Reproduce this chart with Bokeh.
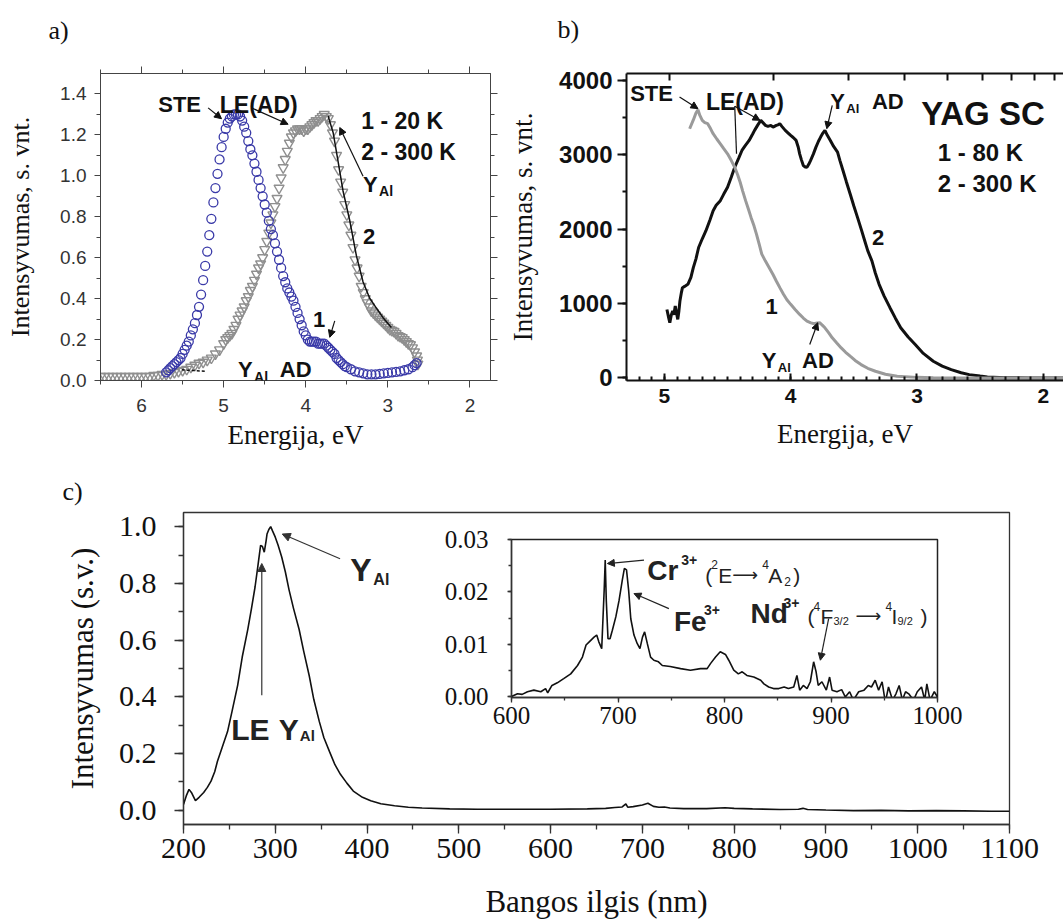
from bokeh.plotting import figure
from bokeh.models import (Range1d, LinearAxis, SingleIntervalTicker, FixedTicker,
                          PrintfTickFormatter, Label, Arrow, NormalHead, GridBox)
from bokeh.layouts import row, column
from bokeh.embed import file_html
from bokeh.resources import INLINE

SANS = "Liberation Sans"
SERIF = "Liberation Serif"

# ---------------- panel a data (energy eV, intensity) ----------------
a_e1 = [5.70, 5.675, 5.65, 5.625, 5.60, 5.575, 5.55, 5.525, 5.50, 5.475, 5.45, 5.425, 5.40, 5.375,
        5.35, 5.325, 5.30, 5.275, 5.25, 5.225, 5.20, 5.175, 5.15, 5.125, 5.10, 5.075, 5.05, 5.025,
        5.00, 4.975, 4.95, 4.925, 4.90, 4.875, 4.85, 4.825, 4.80, 4.775, 4.75, 4.725, 4.70, 4.675,
        4.65, 4.625, 4.60, 4.575, 4.55, 4.525, 4.50, 4.475, 4.45, 4.425, 4.40, 4.375, 4.35, 4.325,
        4.30, 4.275, 4.25, 4.225, 4.20, 4.175, 4.15, 4.125, 4.10, 4.075, 4.05, 4.025, 4.00, 3.975,
        3.95, 3.925, 3.90, 3.875, 3.85, 3.825, 3.80, 3.775, 3.75, 3.725, 3.70, 3.675, 3.65, 3.625,
        3.60, 3.575, 3.55, 3.525, 3.50, 3.45, 3.40, 3.35, 3.30, 3.25, 3.20, 3.15, 3.10, 3.05, 3.00,
        2.95, 2.90, 2.85, 2.80, 2.75, 2.70, 2.675, 2.65]
a_i1 = [0.04, 0.05, 0.06, 0.07, 0.08, 0.09, 0.10, 0.11, 0.13, 0.15, 0.17, 0.19, 0.22, 0.25,
        0.28, 0.32, 0.36, 0.42, 0.49, 0.56, 0.63, 0.71, 0.79, 0.87, 0.94, 1.01, 1.08, 1.14,
        1.19, 1.23, 1.26, 1.28, 1.29, 1.30, 1.30, 1.30, 1.29, 1.27, 1.24, 1.21, 1.17, 1.13,
        1.10, 1.06, 1.02, 0.98, 0.94, 0.90, 0.86, 0.82, 0.78, 0.74, 0.71, 0.67, 0.63, 0.59,
        0.55, 0.51, 0.48, 0.45, 0.43, 0.41, 0.39, 0.36, 0.33, 0.30, 0.27, 0.24, 0.22, 0.20,
        0.19, 0.19, 0.19, 0.19, 0.18, 0.18, 0.18, 0.18, 0.17, 0.16, 0.15, 0.14, 0.13, 0.11,
        0.10, 0.09, 0.08, 0.07, 0.065, 0.055, 0.045, 0.04, 0.035, 0.03, 0.03, 0.03, 0.032, 0.035, 0.037,
        0.04, 0.042, 0.045, 0.05, 0.055, 0.065, 0.075, 0.085]

a_e2 = [6.50, 6.45, 6.40, 6.35, 6.30, 6.25, 6.20, 6.15, 6.10, 6.05, 6.00, 5.95, 5.90, 5.85,
        5.80, 5.75, 5.70, 5.65, 5.60, 5.55, 5.50, 5.45, 5.40, 5.35, 5.30, 5.25, 5.20, 5.15,
        5.10, 5.05, 5.00, 4.975, 4.95, 4.925, 4.90, 4.875, 4.85, 4.825, 4.80, 4.775, 4.75, 4.725,
        4.70, 4.675, 4.65, 4.625, 4.60, 4.575, 4.55, 4.525, 4.50, 4.475, 4.45, 4.425, 4.40, 4.375,
        4.35, 4.325, 4.30, 4.275, 4.25, 4.225, 4.20, 4.175, 4.15, 4.125, 4.10, 4.075, 4.05, 4.025,
        4.00, 3.975, 3.95, 3.925, 3.90, 3.875, 3.85, 3.825, 3.80, 3.775, 3.75, 3.725, 3.70, 3.675,
        3.65, 3.625, 3.60, 3.575, 3.55, 3.525, 3.50, 3.475, 3.45, 3.425, 3.40, 3.375, 3.35, 3.325,
        3.30, 3.275, 3.25, 3.225, 3.20, 3.175, 3.15, 3.125, 3.10, 3.075, 3.05, 3.025, 3.00, 2.975,
        2.95, 2.925, 2.90, 2.875, 2.85, 2.825, 2.80, 2.775, 2.75, 2.725, 2.70, 2.675, 2.65, 2.64, 2.635]
a_i2 = [0.02, 0.02, 0.02, 0.02, 0.02, 0.02, 0.02, 0.02, 0.02, 0.02, 0.02, 0.02, 0.02, 0.025,
        0.025, 0.03, 0.03, 0.035, 0.04, 0.045, 0.05, 0.055, 0.065, 0.075, 0.085, 0.09, 0.10, 0.11,
        0.13, 0.15, 0.18, 0.20, 0.21, 0.22, 0.23, 0.25, 0.27, 0.30, 0.32, 0.34, 0.36, 0.39,
        0.41, 0.44, 0.46, 0.49, 0.52, 0.55, 0.57, 0.60, 0.64, 0.68, 0.72, 0.77, 0.81, 0.85,
        0.89, 0.94, 0.99, 1.04, 1.08, 1.12, 1.16, 1.19, 1.21, 1.22, 1.23, 1.23, 1.23, 1.22,
        1.23, 1.23, 1.24, 1.25, 1.26, 1.27, 1.27, 1.28, 1.29, 1.30, 1.29, 1.28, 1.25, 1.21,
        1.17, 1.10, 1.03, 0.97, 0.92, 0.86, 0.81, 0.76, 0.71, 0.65, 0.59, 0.55, 0.51, 0.46,
        0.43, 0.40, 0.38, 0.36, 0.34, 0.33, 0.32, 0.31, 0.30, 0.29, 0.28, 0.27, 0.26, 0.25,
        0.245, 0.24, 0.23, 0.22, 0.215, 0.21, 0.20, 0.19, 0.18, 0.175, 0.16, 0.14, 0.12, 0.10, 0.08]

a_fit_e = [3.728, 3.667, 3.606, 3.546, 3.465, 3.383, 3.302, 3.221, 3.14, 3.059, 2.957]
a_fit_i = [1.292, 1.212, 1.069, 0.926, 0.783, 0.609, 0.481, 0.402, 0.354, 0.307, 0.259]
a_fit2_e = [5.51, 5.21]
a_fit2_i = [0.052, 0.045]

# ---------------- panel b data ----------------
b_e1 = [4.80, 4.77, 4.75, 4.734, 4.72, 4.70, 4.68, 4.657, 4.635, 4.614, 4.585, 4.557, 4.53, 4.50,
        4.47, 4.443, 4.42, 4.40, 4.38, 4.357, 4.335, 4.314, 4.29, 4.271, 4.25, 4.229, 4.20, 4.171,
        4.14, 4.114, 4.085, 4.057, 4.03, 4.00, 3.965, 3.929, 3.90, 3.871, 3.84, 3.814, 3.79, 3.771,
        3.75, 3.729, 3.70, 3.671, 3.635, 3.60, 3.565, 3.529, 3.49, 3.443, 3.39, 3.329, 3.25, 3.157,
        3.00, 2.871, 2.50, 1.80]
b_i1 = [3348, 3470, 3560, 3604, 3530, 3461, 3430, 3416, 3350, 3281, 3210, 3146, 3080, 3011,
        2920, 2831, 2730, 2629, 2510, 2382, 2270, 2157, 2040, 1933, 1800, 1663, 1570, 1483,
        1390, 1303, 1210, 1124, 1050, 989, 920, 854, 805, 764, 740, 728, 740, 742,
        710, 674, 610, 539, 470, 404, 345, 292, 235, 180, 130, 90, 50, 22,
        8, 2, 0, 0]

b_e2 = [4.98, 4.965, 4.957, 4.945, 4.934, 4.925, 4.914, 4.905, 4.894, 4.885, 4.877, 4.865, 4.857,
        4.84, 4.814, 4.79, 4.771, 4.75, 4.729, 4.70, 4.671, 4.64, 4.614, 4.59, 4.557, 4.53, 4.50,
        4.47, 4.443, 4.41, 4.386, 4.36, 4.329, 4.30, 4.286, 4.26, 4.237, 4.22, 4.20, 4.18, 4.157,
        4.14, 4.114, 4.10, 4.086, 4.07, 4.043, 4.02, 4.00, 3.98, 3.957, 3.94, 3.929, 3.915, 3.90,
        3.885, 3.871, 3.857, 3.843, 3.82, 3.80, 3.78, 3.763, 3.745, 3.729, 3.71, 3.686, 3.66,
        3.629, 3.61, 3.586, 3.56, 3.529, 3.50, 3.471, 3.44, 3.414, 3.39, 3.357, 3.33, 3.30, 3.26,
        3.214, 3.17, 3.129, 3.07, 3.014, 2.95, 2.871, 2.80, 2.729, 2.65, 2.586, 2.50, 2.443, 2.30,
        2.10, 1.80]
b_i2 = [920, 800, 742, 850, 899, 850, 966, 880, 787, 900, 1034, 1150, 1213,
        1230, 1258, 1350, 1483, 1600, 1753, 1870, 1978, 2120, 2247, 2320, 2382, 2470, 2562,
        2700, 2831, 2960, 3056, 3120, 3191, 3280, 3326, 3400, 3461, 3430, 3393, 3380, 3393,
        3370, 3393, 3400, 3416, 3380, 3326, 3290, 3258, 3230, 3191, 3100, 3011, 2930, 2854,
        2835, 2831, 2870, 2921, 3010, 3101, 3180, 3236, 3290, 3326, 3260, 3191, 3110,
        3034, 2920, 2787, 2640, 2472, 2310, 2157, 1990, 1843, 1710, 1573, 1410, 1258, 1100,
        944, 800, 674, 550, 449, 330, 225, 160, 112, 70, 45, 25, 13, 4,
        0, 0]

# top axis of panel b: wavelength ticks (nm)
b_top_nm = [250, 300, 350, 400, 450, 500, 550, 600, 650, 700]

# ---------------- panel c data (wavelength nm, intensity) ----------------
c_nm = [200, 203, 206, 209, 213, 217, 222, 226, 230, 234, 237, 242, 248, 253, 259, 264, 270, 274,
        278, 281, 284, 286, 288, 290, 291, 293, 295, 297, 300, 303, 307, 311, 315, 320, 326, 331,
        337, 342, 348, 353, 359, 365, 371, 378, 385, 395, 404, 415, 430, 445, 460, 490, 520, 560,
        600, 640, 660, 670, 678, 682, 684, 690, 700, 706, 712, 718, 724, 730, 745, 770, 790, 800,
        820, 850, 870, 875, 880, 900, 930, 960, 990, 1020, 1050, 1080, 1100]
c_int = [0.02, 0.05, 0.073, 0.06, 0.033, 0.045, 0.062, 0.08, 0.102, 0.135, 0.172, 0.22, 0.277,
         0.35, 0.44, 0.54, 0.637, 0.71, 0.788, 0.86, 0.934, 0.93, 0.91, 0.95, 0.974, 0.99, 1.0,
         0.985, 0.963, 0.935, 0.893, 0.84, 0.777, 0.71, 0.637, 0.56, 0.474, 0.39, 0.312, 0.255,
         0.207, 0.16, 0.126, 0.095, 0.067, 0.045, 0.033, 0.022, 0.015, 0.01, 0.007, 0.004, 0.003,
         0.003, 0.003, 0.004, 0.006, 0.009, 0.011, 0.022, 0.01, 0.012, 0.018, 0.024, 0.013, 0.01,
         0.011, 0.007, 0.005, 0.005, 0.008, 0.006, 0.004, 0.002, 0.003, 0.006, 0.002, 0.0,
         -0.002, -0.001, -0.003, -0.002, -0.003, -0.004, -0.004]

# inset
ins_nm = [600, 605.6, 610, 615, 621, 627.5, 632, 634, 638, 643, 649, 655.6, 662, 666.6, 670, 673,
          677.5, 680, 682, 684.7, 687, 688, 689, 690.6, 692.5, 694.7, 698, 701, 704, 706, 708, 710,
          712, 715, 718, 720.6, 723, 725, 727.5, 730.6, 733.7, 738, 741.6, 749, 758.8, 768, 777.5,
          783.7, 787, 791.6, 796, 800.9, 804, 808.7, 813, 816.6, 821, 827.5, 834, 837, 841.5, 846,
          851, 856, 860, 865, 868, 870.6, 874, 877.5, 880.6, 883.7, 886, 888, 891.5, 895.6, 898.7,
          901, 905.6, 910, 913.4, 917.5, 921, 926, 931, 935, 938, 941.5, 944.7, 948, 951, 954,
          957.8, 961, 964, 967, 970, 973, 977.5, 981, 985, 988, 990, 993, 997, 1000]
ins_int = [0.0001, 0.0006, 0.0005, 0.001, 0.0013, 0.001, 0.0016, 0.0008, 0.0022, 0.0027, 0.0035,
           0.0044, 0.006, 0.0076, 0.0099, 0.0105, 0.0114, 0.0118, 0.0105, 0.0092, 0.0203, 0.0261,
           0.0184, 0.0111, 0.0111, 0.0127, 0.0153, 0.0184, 0.0222, 0.0245, 0.0242, 0.0203, 0.0149,
           0.0118, 0.0102, 0.0092, 0.0114, 0.0124, 0.0102, 0.0076, 0.007, 0.0067, 0.006, 0.0058,
           0.0054, 0.0051, 0.0054, 0.0054, 0.0064, 0.0076, 0.0086, 0.0081, 0.007, 0.0051, 0.0044,
           0.0048, 0.0041, 0.0038, 0.0032, 0.0025, 0.0019, 0.0016, 0.0016, 0.0019, 0.0016, 0.0019,
           0.0041, 0.0013, 0.0022, 0.0016, 0.0029, 0.0067, 0.0048, 0.0022, 0.0029, 0.0013, 0.0038,
           0.0013, 0.001, 0.0014, 0.0, 0.001, -0.0006, 0.001, 0.0013, 0.0022, 0.0019, 0.0032,
           0.0013, 0.0029, -0.001, 0.0019, -0.0006, 0.0006, 0.0022, -0.0006, 0.001, 0.0006,
           -0.0006, 0.001, 0.0019, -0.0006, 0.0025, -0.0006, 0.001, 0.0]

panel_letters = ["a)", "b)", "c)"]


def style(ax, font, size, bold=False, color="#222", mt_out=6, mt_in=0, mn_out=3, mn_in=0,
          standoff=6, lw=1.0, lc="#333", tfont=SERIF, tsize=27, tstand=10):
    ax.major_label_text_font = font
    ax.major_label_text_font_size = f"{size}px"
    ax.major_label_text_font_style = "bold" if bold else "normal"
    ax.major_label_text_color = color
    ax.major_tick_out = mt_out
    ax.major_tick_in = mt_in
    ax.minor_tick_out = mn_out
    ax.minor_tick_in = mn_in
    ax.major_label_standoff = standoff
    ax.axis_line_width = lw
    ax.axis_line_color = lc
    ax.major_tick_line_color = lc
    ax.minor_tick_line_color = lc
    ax.major_tick_line_width = lw
    ax.minor_tick_line_width = lw
    ax.axis_label_text_font = tfont
    ax.axis_label_text_font_size = f"{tsize}px"
    ax.axis_label_text_font_style = "normal"
    ax.axis_label_text_color = "#111"
    ax.axis_label_standoff = tstand


def mirror(ticker, mt_out=7, mt_in=0, mn_out=4, mn_in=0, lw=1.0, lc="#444"):
    ax = LinearAxis(ticker=ticker)
    style(ax, SANS, 12, mt_out=mt_out, mt_in=mt_in, mn_out=mn_out, mn_in=mn_in, standoff=0,
          lw=lw, lc=lc, tstand=0)
    ax.major_label_text_color = None
    ax.major_label_text_font_size = "0px"
    return ax


def txt(p, x, y, s, size, bold=True, font=SANS, dx=0, dy=0, color="#111"):
    p.add_layout(Label(x=x, y=y, text=s, x_offset=dx, y_offset=dy, text_font=font,
                       text_font_size=f"{size}px", text_font_style="bold" if bold else "normal",
                       text_align="left", text_baseline="alphabetic", text_color=color))


def arr(p, x0, y0, x1, y1, head=True, size=7, lw=1.2, color="#111"):
    end = NormalHead(size=size, fill_color=color, line_color=color, line_width=1) if head else None
    p.add_layout(Arrow(end=end, x_start=x0, y_start=y0, x_end=x1, y_end=y1,
                       line_color=color, line_width=lw))


def letter_fig(w, h, text, lx, ly):
    f = figure(width=w, height=h, x_range=Range1d(0, w), y_range=Range1d(h, 0),
               x_axis_type=None, y_axis_type=None, output_backend="svg", toolbar_location=None,
               title=None, min_border_left=0, min_border_right=0, min_border_top=0,
               min_border_bottom=0)
    f.grid.visible = False
    f.outline_line_color = None
    f.background_fill_alpha = 0
    f.border_fill_alpha = 0
    txt(f, lx, ly, text, 26, bold=False, font=SERIF)
    return f


# ================= panel a =================
pa = figure(width=505, height=460, x_range=Range1d(6.5, 1.75), y_range=Range1d(0, 1.5),
            output_backend="svg", toolbar_location=None, title=None,
            min_border_left=100, min_border_right=15, min_border_top=65, min_border_bottom=79,
            x_axis_label="Energija, eV", y_axis_label="Intensyvumas, s. vnt.")
pa.grid.visible = False
pa.outline_line_color = "#444"
pa.xaxis.ticker = SingleIntervalTicker(interval=1, num_minor_ticks=2)
pa.xaxis.formatter = PrintfTickFormatter(format="%d")
pa.yaxis.ticker = SingleIntervalTicker(interval=0.2, num_minor_ticks=2)
pa.yaxis.formatter = PrintfTickFormatter(format="%.1f")
style(pa.xaxis[0], SANS, 19, color="#333", mt_out=7, mn_out=4, standoff=11, lc="#444", tsize=27, tstand=5)
style(pa.yaxis[0], SANS, 19, color="#333", mt_out=6, mn_out=4, standoff=8, lc="#444", tsize=26, tstand=22)
pa.add_layout(mirror(SingleIntervalTicker(interval=1, num_minor_ticks=2)), "above")
pa.add_layout(mirror(SingleIntervalTicker(interval=0.2, num_minor_ticks=2)), "right")

pa.scatter(a_e2, a_i2, marker="inverted_triangle", size=10, fill_color=None,
           line_color="#8f8f8f", line_width=1.4)
pa.scatter(a_e1, a_i1, marker="circle", size=9, fill_color=None,
           line_color="#3a3aa8", line_width=1.3)
pa.line(a_fit_e, a_fit_i, line_color="#111", line_width=1.5)
pa.line(a_fit2_e, a_fit2_i, line_color="#111", line_width=1.5, line_dash="3 2")

txt(pa, 5.797, 1.348, "STE", 22)
txt(pa, 5.047, 1.348, "LE(AD)", 23)
txt(pa, 3.323, 1.268, "1 - 20 K", 23)
txt(pa, 3.323, 1.117, "2 - 300 K", 23)
txt(pa, 3.302, 0.958, "Y", 22)
txt(pa, 3.302, 0.958, "Al", 14, dx=16, dy=-7)
txt(pa, 3.302, 0.704, "2", 22)
txt(pa, 3.911, 0.299, "1", 22)
txt(pa, 4.824, 0.052, "Y", 22)
txt(pa, 4.824, 0.052, "Al", 14, dx=16, dy=-7)
txt(pa, 4.316, 0.052, "AD", 22)
arr(pa, 5.189, 1.332, 5.026, 1.279)
arr(pa, 4.661, 1.332, 4.215, 1.252)
arr(pa, 3.302, 0.998, 3.586, 1.236)
arr(pa, 3.647, 0.291, 3.708, 0.211)

# ================= panel b =================
pb = figure(width=558, height=460, x_range=Range1d(5.30, 1.84), y_range=Range1d(-34, 4090),
            output_backend="svg", toolbar_location=None, title=None,
            min_border_left=119, min_border_right=0, min_border_top=73, min_border_bottom=80,
            x_axis_label="Energija, eV", y_axis_label="Intensyvumas, s. vnt.")
pb.grid.visible = False
pb.outline_line_color = None
pb.xaxis.ticker = SingleIntervalTicker(interval=1, num_minor_ticks=10)
pb.xaxis.formatter = PrintfTickFormatter(format="%d")
pb.yaxis.ticker = SingleIntervalTicker(interval=1000, num_minor_ticks=2)
pb.yaxis.formatter = PrintfTickFormatter(format="%d")
style(pb.xaxis[0], SANS, 21, bold=True, color="#111", mt_out=0, mt_in=7, mn_out=0, mn_in=4,
      standoff=8, lw=2, lc="#111", tsize=27, tstand=13)
style(pb.yaxis[0], SANS, 24, bold=True, color="#111", mt_out=9, mn_out=4, standoff=5,
      lw=2, lc="#111", tsize=27, tstand=18)
pb.add_layout(mirror(FixedTicker(ticks=[1240.0 / w for w in b_top_nm], minor_ticks=[]),
                     mt_out=0, mt_in=7, mn_out=0, lw=2, lc="#111"), "above")

pb.line(b_e2, b_i2, line_color="#111", line_width=3)
pb.line(b_e1, b_i1, line_color="#9a9a9a", line_width=3)

txt(pb, 5.271, 3820, "STE", 22)
txt(pb, 4.671, 3708, "LE(AD)", 23)
txt(pb, 3.686, 3708, "Y", 22)
txt(pb, 3.686, 3708, "Al", 13, dx=16, dy=-7)
txt(pb, 3.357, 3708, "AD", 22)
txt(pb, 2.966, 3550, "YAG SC", 33)
txt(pb, 2.835, 3034, "1 - 80 K", 24)
txt(pb, 2.835, 2607, "2 - 300 K", 24)
txt(pb, 3.357, 1888, "2", 22)
txt(pb, 4.20, 966, "1", 22)
txt(pb, 4.229, 235, "Y", 22)
txt(pb, 4.229, 235, "Al", 13, dx=16, dy=-7)
txt(pb, 3.91, 235, "AD", 22)
arr(pb, 4.88, 3775, 4.734, 3618)
arr(pb, 4.443, 3649, 4.243, 3461)
arr(pb, 4.443, 3649, 4.429, 3011, head=False)
arr(pb, 3.671, 3663, 3.714, 3348)
arr(pb, 3.849, 449, 3.786, 742)

# ================= panel c =================
pc = figure(width=1063, height=461, x_range=Range1d(200, 1100), y_range=Range1d(-0.051, 1.05),
            output_backend="svg", toolbar_location=None, title=None,
            min_border_left=183, min_border_right=54, min_border_top=52, min_border_bottom=94,
            x_axis_label="Bangos ilgis (nm)", y_axis_label="Intensyvumas (s.v.)")
pc.grid.visible = False
pc.outline_line_color = "#333"
pc.outline_line_width = 1.3
pc.xaxis.ticker = SingleIntervalTicker(interval=100, num_minor_ticks=2)
pc.xaxis.formatter = PrintfTickFormatter(format="%d")
pc.yaxis.ticker = SingleIntervalTicker(interval=0.2, num_minor_ticks=2)
pc.yaxis.formatter = PrintfTickFormatter(format="%.1f")
style(pc.xaxis[0], SERIF, 30, color="#111", mt_out=9, mn_out=5, standoff=5, lw=1.3, lc="#333",
      tsize=31, tstand=23)
style(pc.yaxis[0], SERIF, 30, color="#111", mt_out=9, mn_out=5, standoff=18, lw=1.3, lc="#333",
      tsize=31, tstand=16)
pc.line(c_nm, c_int, line_color="#111", line_width=1.6)

txt(pc, 381.8, 0.847, "Y", 32, color="#222")
txt(pc, 381.8, 0.847, "Al", 16, dx=23, dy=-9, color="#222")
txt(pc, 252, 0.283, "LE", 30, color="#222")
txt(pc, 303.9, 0.283, "Y", 30, color="#222")
txt(pc, 303.9, 0.283, "Al", 15, dx=21, dy=-6, color="#222")
arr(pc, 370.6, 0.887, 307.6, 0.974, size=8, color="#333")
arr(pc, 285.3, 0.405, 285.3, 0.87, size=8, color="#333")

# ================= inset =================
pi = figure(width=535, height=220, x_range=Range1d(600, 1000), y_range=Range1d(-0.0001, 0.030),
            output_backend="svg", toolbar_location=None, title=None,
            min_border_left=71, min_border_right=38, min_border_top=14, min_border_bottom=48)
pi.grid.visible = False
pi.outline_line_color = "#222"
pi.outline_line_width = 1.5
pi.border_fill_alpha = 0
pi.xaxis.ticker = SingleIntervalTicker(interval=100, num_minor_ticks=2)
pi.xaxis.formatter = PrintfTickFormatter(format="%d")
pi.yaxis.ticker = SingleIntervalTicker(interval=0.01, num_minor_ticks=2)
pi.yaxis.formatter = PrintfTickFormatter(format="%.2f")
style(pi.xaxis[0], SERIF, 25, color="#111", mt_out=5, mn_out=3, standoff=4, lw=1.3, lc="#333")
style(pi.yaxis[0], SERIF, 25, color="#111", mt_out=4, mn_out=3, standoff=19, lw=1.3, lc="#333")
pi.line(ins_nm, ins_int, line_color="#111", line_width=1.6)

# Cr label
CRX, CRY = 727.5, 0.02415
txt(pi, CRX, CRY, "Cr", 28, color="#222")
txt(pi, CRX, CRY, "3+", 14, dx=34, dy=10, color="#222")
for s, dx, dy, sz in [("(", 58, -5, 21), ("2", 64, 6, 12), ("E", 71, -5, 21), ("4", 115, 6, 12),
                      ("A", 121, -5, 21), ("2", 137, -11, 12), (")", 146, -5, 21)]:
    txt(pi, CRX, CRY, s, sz, bold=False, dx=dx, dy=dy, color="#222")
txt(pi, CRX, CRY, "⟶", 18, bold=False, font="DejaVu Sans", dx=85, dy=-4, color="#222")
# Fe label
FEX, FEY = 752.5, 0.0143
txt(pi, FEX, FEY, "Fe", 28, color="#222")
txt(pi, FEX, FEY, "3+", 14, dx=30, dy=12, color="#222")
# Nd label
NDX, NDY = 824.4, 0.0159
txt(pi, NDX, NDY, "Nd", 28, color="#222")
txt(pi, NDX, NDY, "3+", 14, dx=33, dy=11, color="#222")
for s, dx, dy, sz in [("(", 57, -3, 21), ("4", 63, 7, 12), ("F", 70, -3, 21), ("3/2", 83, -7, 11),
                      ("4", 135, 7, 12), ("I", 141, -3, 21), ("9/2", 147, -7, 11), (")", 170, -3, 21)]:
    txt(pi, NDX, NDY, s, sz, bold=False, dx=dx, dy=dy, color="#222")
txt(pi, NDX, NDY, "⟶", 18, bold=False, font="DejaVu Sans", dx=105, dy=-2, color="#222")
arr(pi, 724.4, 0.02606, 690, 0.02542, size=7, color="#222")
arr(pi, 747.8, 0.01684, 715, 0.0197, size=7, color="#222")
arr(pi, 897.8, 0.01494, 890, 0.0070, size=7, color="#222")

# ================= layout =================
la = letter_fig(60, 48, panel_letters[0], 18, 29)   # page x 30..90,  y 1..49
lb = letter_fig(60, 48, panel_letters[1], 22, 28)   # page x 535..595, y 1..49
lc = letter_fig(60, 50, panel_letters[2], 22, 28)   # page x 40..100, y 463..513

top = GridBox(children=[(row(pa, pb), 0, 0, 3, 6), (la, 1, 1, 1, 1), (lb, 1, 4, 1, 1)],
              rows=["1px", "48px", "411px"],
              cols=["30px", "60px", "405px", "40px", "60px", "468px"])
bottom = GridBox(children=[(pc, 0, 0, 5, 5), (lc, 1, 1, 1, 1), (pi, 3, 3, 1, 1)],
                 rows=["3px", "50px", "12px", "220px", "176px"],
                 cols=["40px", "60px", "340px", "535px", "88px"])

open("out.html", "w").write(file_html(column(top, bottom), INLINE))
